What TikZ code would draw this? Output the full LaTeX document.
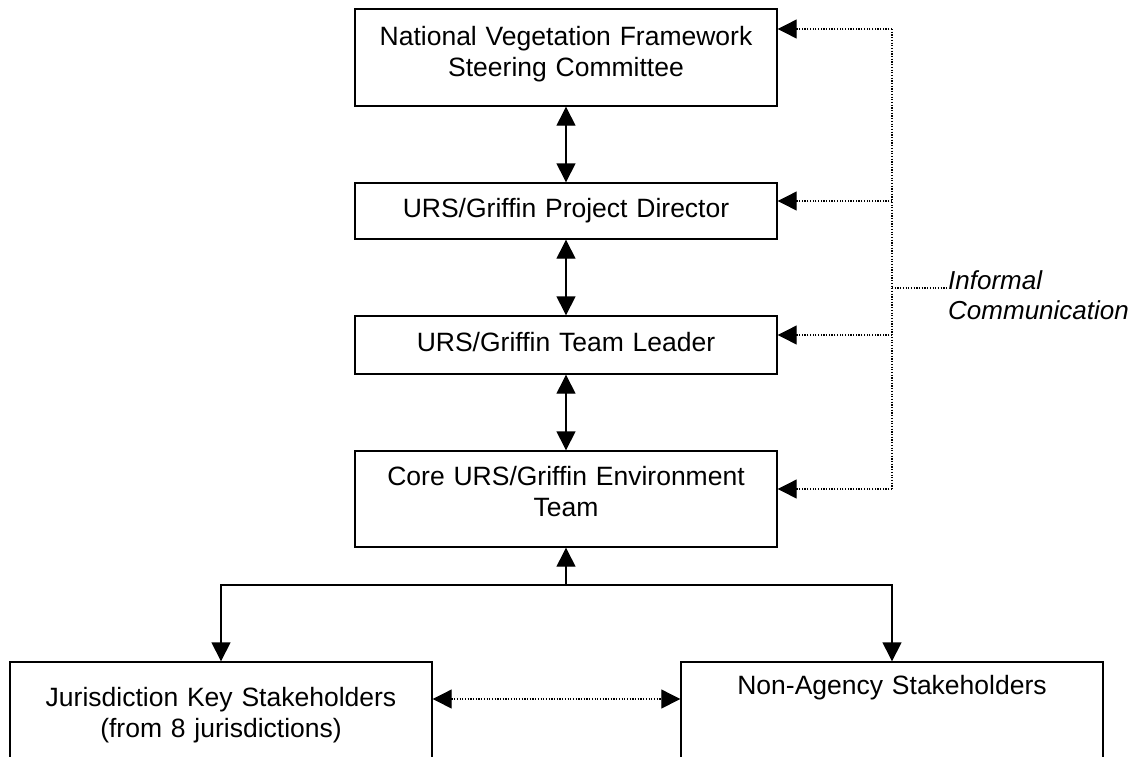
\documentclass[tikz,border=0pt]{standalone}
\usepackage{fontspec}
\setmainfont{Liberation Sans}
\usetikzlibrary{arrows.meta}
\begin{document}
\begin{tikzpicture}[x=1pt,y=-1pt,
  box/.style={draw=black, line width=1.4pt, inner sep=0pt, minimum width=422pt},
  lbl/.style={font=\fontsize{26.5}{31}\selectfont, align=center, text width=420pt, anchor=base, inner sep=0pt},
  conn/.style={line width=1.4pt},
  dotline/.style={line width=1.2pt, dash pattern=on 1.2pt off 1.5pt},
  tri/.tip={Triangle[length=19pt,width=19pt]}
]
\useasboundingbox (0,0) rectangle (1142,756);
\clip (0,0) rectangle (1142,756);

% boxes
\node[box, minimum height=97pt] (nvf) at (566,57.5) {};
\node[box, minimum height=56pt] (pd) at (566,211) {};
\node[box, minimum height=58pt] (tl) at (566,345) {};
\node[box, minimum height=96pt] (core) at (566,499) {};
\node[box, minimum height=120pt] (jur) at (221,722) {};
\node[box, minimum height=120pt] (non) at (892,722) {};

% texts
\node[lbl] (nvft) at (566,45) {National Vegetation Framework\\Steering Committee};
\node[lbl] (pdt) at (566,217) {URS/Griffin Project Director};
\node[lbl] (tlt) at (566,351) {URS/Griffin Team Leader};
\node[lbl] (coret) at (566,485) {Core URS/Griffin Environment\\Team};
\node[lbl] (jurt) at (221,706) {Jurisdiction Key Stakeholders\\(from 8 jurisdictions)};
\node[lbl] (nont) at (892,694) {Non-Agency Stakeholders};
\node[font=\fontsize{26}{30}\selectfont\itshape, align=left, text width=200pt, anchor=base west, inner sep=0pt] (inf) at (948,289) {Informal\\Communication};

% vertical solid connectors
\draw[conn, tri-tri] (nvf.south) -- (pd.north);
\draw[conn, tri-tri] (pd.south) -- (tl.north);
\draw[conn, tri-tri] (tl.south) -- (core.north);

% bottom tree
\coordinate (hub) at (566,585);
\draw[conn, -tri] (hub) -- (core.south);
\draw[conn, -tri] (hub) -| (jur.north);
\draw[conn, -tri] (hub) -| (non.north);

% bottom dotted
\coordinate (bd) at (556,699);
\draw[dotline, tri-tri] (bd -| jur.east) -- (bd -| non.west);

% informal communication
\coordinate (r1) at (892,29);
\coordinate (r2) at (892,201);
\coordinate (r3) at (892,335);
\coordinate (r4) at (892,489);
\coordinate (rl) at (892,288);
\coordinate (le) at (948,288);
\draw[dotline] (r1) -- (r4);
\draw[dotline] (rl) -- (le);
\draw[dotline, -tri] (r1) -- (r1 -| nvf.east);
\draw[dotline, -tri] (r2) -- (r2 -| pd.east);
\draw[dotline, -tri] (r3) -- (r3 -| tl.east);
\draw[dotline, -tri] (r4) -- (r4 -| core.east);
\end{tikzpicture}
\end{document}
